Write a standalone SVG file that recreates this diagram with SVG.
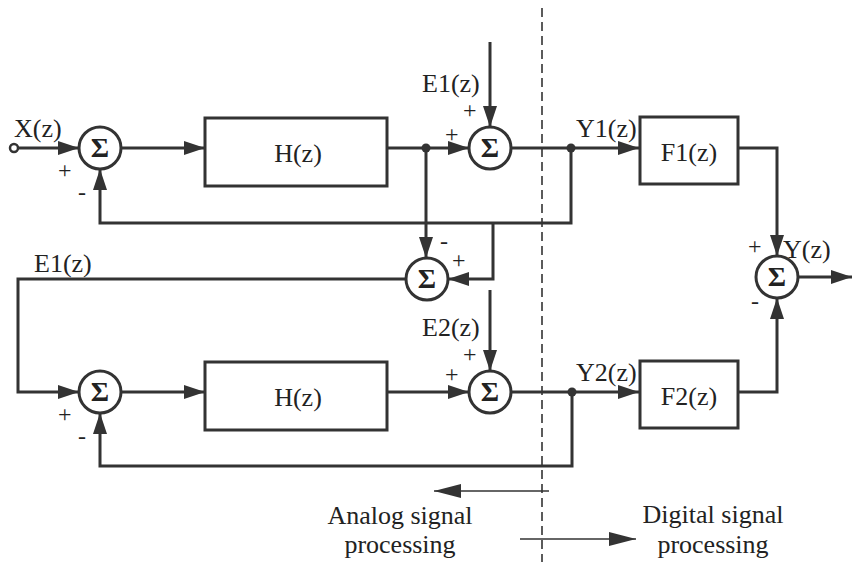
<svg xmlns="http://www.w3.org/2000/svg" width="853" height="562" viewBox="0 0 853 562">
<style>
.w{fill:none;stroke:#333;stroke-width:3}
.t{fill:none;stroke:#333;stroke-width:1.6}
.b{fill:#fff;stroke:#333;stroke-width:3}
.s{fill:#fff;stroke:#333;stroke-width:3}
.lbl{font-family:"Liberation Serif",serif;font-size:26px;fill:#222}
.sig{font-family:"Liberation Serif",serif;font-size:24px;fill:#222}
.sg{font-family:"Liberation Serif",serif;font-size:28px;font-weight:bold;fill:#222;text-anchor:middle}
.c{text-anchor:middle}
</style>
<defs>
<marker id="ah" markerUnits="userSpaceOnUse" markerWidth="22" markerHeight="16" refX="21" refY="8" orient="auto">
<path d="M0,1 L21,8 L0,15 z" fill="#333"/>
</marker>
<marker id="ah2" markerUnits="userSpaceOnUse" markerWidth="28" markerHeight="16" refX="27" refY="8" orient="auto">
<path d="M0,1 L27,8 L0,15 z" fill="#333"/>
</marker>
</defs>
<g id="connectors">
<circle cx="14" cy="148" r="4" fill="#fff" stroke="#333" stroke-width="2.5"/>
<path class="w" d="M18,148 H79" marker-end="url(#ah)"/>
<path class="w" d="M121,148 H205" marker-end="url(#ah)"/>
<path class="w" d="M387,148 H469" marker-end="url(#ah)"/>
<path class="w" d="M490,42 V127" marker-end="url(#ah)"/>
<path class="w" d="M511,148 H639" marker-end="url(#ah)"/>
<path class="w" d="M571,148 V223 H100 V169" marker-end="url(#ah)"/>
<path class="w" d="M426,148 V258" marker-end="url(#ah)"/>
<path class="w" d="M493,223 V279 H448" marker-end="url(#ah)"/>
<path class="w" d="M406,279 H18 V392 H79" marker-end="url(#ah)"/>
<path class="w" d="M121,392 H205" marker-end="url(#ah)"/>
<path class="w" d="M387,392 H469" marker-end="url(#ah)"/>
<path class="w" d="M490,290 V371" marker-end="url(#ah)"/>
<path class="w" d="M511,392 H639" marker-end="url(#ah)"/>
<path class="w" d="M572,392 V466 H100 V413" marker-end="url(#ah)"/>
<path class="w" d="M738,148 H777 V256" marker-end="url(#ah)"/>
<path class="w" d="M738,392 H777 V298" marker-end="url(#ah)"/>
<path class="w" d="M798,277 H852" marker-end="url(#ah)"/>
<circle cx="426" cy="148" r="4.5" fill="#333"/>
<circle cx="571" cy="148" r="4.5" fill="#333"/>
<circle cx="572" cy="392" r="4.5" fill="#333"/>
<path d="M542,8 V562" fill="none" stroke="#333" stroke-width="1.6" stroke-dasharray="9,5"/>
<path class="t" d="M549,491 H434" marker-end="url(#ah2)"/>
<path class="t" d="M520,539 H636" marker-end="url(#ah2)"/>
</g>
<g id="sum1"><circle class="s" cx="100" cy="148" r="21"/><text class="sg" x="100" y="157">Σ</text></g>
<g id="sum2"><circle class="s" cx="490" cy="148" r="21"/><text class="sg" x="490" y="157">Σ</text></g>
<g id="sum3"><circle class="s" cx="427" cy="279" r="21"/><text class="sg" x="427" y="288">Σ</text></g>
<g id="sum4"><circle class="s" cx="100" cy="392" r="21"/><text class="sg" x="100" y="401">Σ</text></g>
<g id="sum5"><circle class="s" cx="490" cy="392" r="21"/><text class="sg" x="490" y="401">Σ</text></g>
<g id="sum6"><circle class="s" cx="777" cy="277" r="21"/><text class="sg" x="777" y="286">Σ</text></g>
<g id="H1"><rect class="b" x="205" y="118" width="182" height="68"/><text class="lbl c" x="298" y="162">H(z)</text></g>
<g id="H2"><rect class="b" x="205" y="362" width="182" height="68"/><text class="lbl c" x="298" y="406">H(z)</text></g>
<g id="F1"><rect class="b" x="640" y="117" width="98" height="67"/><text class="lbl c" x="689" y="161">F1(z)</text></g>
<g id="F2"><rect class="b" x="640" y="361" width="98" height="67"/><text class="lbl c" x="689" y="405">F2(z)</text></g>
<g id="labels">
<text class="lbl" x="14" y="137">X(z)</text>
<text class="sig" x="58" y="178">+</text>
<text class="sig" x="78" y="200">-</text>
<text class="lbl" x="422" y="92">E1(z)</text>
<text class="sig" x="463" y="118">+</text>
<text class="sig" x="445" y="142">+</text>
<text class="lbl" x="576" y="137">Y1(z)</text>
<text class="sig" x="440" y="249">-</text>
<text class="sig" x="452" y="268">+</text>
<text class="lbl" x="34" y="272">E1(z)</text>
<text class="sig" x="58" y="422">+</text>
<text class="sig" x="78" y="444">-</text>
<text class="lbl" x="422" y="336">E2(z)</text>
<text class="sig" x="463" y="362">+</text>
<text class="sig" x="445" y="382">+</text>
<text class="lbl" x="576" y="381">Y2(z)</text>
<text class="sig" x="748" y="254">+</text>
<text class="sig" x="751" y="309">-</text>
<text class="lbl" x="783" y="258">Y(z)</text>
<text class="lbl c" x="400" y="524">Analog signal</text>
<text class="lbl c" x="400" y="553">processing</text>
<text class="lbl c" x="713" y="523">Digital signal</text>
<text class="lbl c" x="713" y="553">processing</text>
</g>
</svg>
